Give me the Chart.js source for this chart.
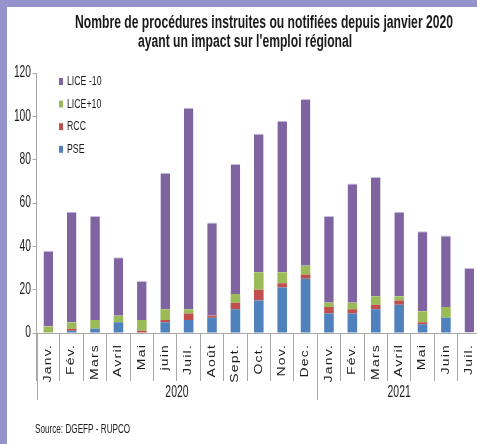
<!DOCTYPE html>
<html>
<head>
<meta charset="utf-8">
<script src="https://cdn.jsdelivr.net/npm/chart.js@4.4.1/dist/chart.umd.min.js"></script>
<style>
  html, body { margin: 0; padding: 0; background: #fff; overflow: hidden; }
  #wrap { width: 477px; height: 444px; overflow: hidden; }
</style>
</head>
<body>
<div id="wrap"><canvas id="chart" width="482" height="444"></canvas></div>
<script>
const months = ['Janv.', 'Fév.', 'Mars', 'Avril', 'Mai', 'juin', 'Juil.', 'Août', 'Sept.', 'Oct.', 'Nov.', 'Dec.',
                'Janv.', 'Fév.', 'Mars', 'Avril', 'Mai', 'Juin', 'Juil.'];
const years = ['2020', '2021'];
const monthsPerYear = [12, 7];

const pse     = [0, 1, 2, 5, 0, 5, 6, 7, 11, 15, 21, 25, 9, 9, 11, 13, 4, 7, 0];
const rcc     = [0, 1, 0, 0, 1, 1, 3, 1, 3, 5, 2, 2, 3, 2, 2, 2, 1, 0, 0];
const licePlus10  = [3, 3, 4, 3, 5, 5, 2, 0, 4, 8, 5, 4, 2, 3, 4, 2, 5, 5, 0];
const liceMinus10 = [35, 51, 48, 27, 18, 63, 93, 43, 60, 64, 70, 77, 40, 55, 55, 39, 37, 33, 30];

const yTicks = [0, 20, 40, 60, 80, 100, 120];

const titleLines = ['Nombre de procédures instruites ou notifiées depuis janvier 2020',
                    "ayant un impact sur l'emploi régional"];
const sourceText = 'Source: DGEFP - RUPCO';

const FONT = '"Liberation Sans", Arial, sans-serif';
const INK = '#1a1a1a';
const AXIS = '#a9a9a9';

// text squeezed horizontally, like the original picture
function text(ctx, s, x, y, size, sx, align, bold) {
  ctx.save();
  ctx.translate(x, y);
  ctx.scale(sx, 1);
  ctx.font = (bold ? 'bold ' : '') + size + 'px ' + FONT;
  ctx.fillStyle = INK;
  ctx.textAlign = align;
  ctx.textBaseline = 'middle';
  ctx.fillText(s, 0, 0);
  ctx.restore();
}

function vtext(ctx, s, x, y, size, sx) {
  ctx.save();
  ctx.translate(x, y);
  ctx.rotate(-Math.PI / 2);
  ctx.scale(1, sx);
  ctx.font = size + 'px ' + FONT;
  ctx.letterSpacing = '1.2px';
  ctx.fillStyle = INK;
  ctx.textAlign = 'right';
  ctx.textBaseline = 'middle';
  ctx.fillText(s, 0, 0);
  ctx.restore();
}

const decor = {
  id: 'decor',
  beforeDraw(chart) {
    const ctx = chart.ctx;
    ctx.save();
    ctx.fillStyle = '#fff';
    ctx.fillRect(0, 0, chart.width, chart.height);
    ctx.fillStyle = '#9494cb';
    ctx.fillRect(0, 0, chart.width, 7);
    ctx.fillRect(0, 0, 7, chart.height);
    ctx.restore();
  },
  afterDraw(chart) {
    const ctx = chart.ctx;
    const x = chart.scales.x, y = chart.scales.y;

    // title
    ctx.save();
    ctx.font = 'bold 18px ' + FONT;
    const tsx = 378 / ctx.measureText(titleLines[0]).width;
    ctx.restore();
    text(ctx, titleLines[0], 75, 23, 18, tsx, 'left', true);
    text(ctx, titleLines[1], 138, 42, 18, tsx, 'left', true);

    // y labels
    y.ticks.forEach(t => {
      text(ctx, String(t.value), 31, y.getPixelForValue(t.value), 16, 0.64, 'right');
    });

    // legend (top of the stack first)
    const ds = chart.data.datasets.slice().reverse();
    ds.forEach((d, i) => {
      const cy = 81.5 + i * 22.6;
      ctx.fillStyle = d.backgroundColor;
      ctx.fillRect(59, cy - 3.5, 4, 7);
      text(ctx, d.label, 67, cy, 12.5, 0.7, 'left');
    });

    // month labels
    months.forEach((m, i) => {
      vtext(ctx, m, x.getPixelForValue(i), 344, 14, 0.72);
    });

    // year separators and labels
    const half = (x.getPixelForValue(1) - x.getPixelForValue(0)) / 2;
    let start = 0;
    ctx.save();
    ctx.strokeStyle = AXIS;
    ctx.lineWidth = 1;
    years.forEach((yr, k) => {
      const end = start + monthsPerYear[k] - 1;
      const x0 = x.getPixelForValue(start) - half;
      const x1 = x.getPixelForValue(end) + half;
      [x0, x1].forEach(px => {
        ctx.beginPath();
        ctx.moveTo(Math.round(px) + 0.5, y.bottom);
        ctx.lineTo(Math.round(px) + 0.5, 400);
        ctx.stroke();
      });
      text(ctx, yr, (x0 + x1) / 2, 393, 16, 0.65, 'center');
      start = end + 1;
    });
    ctx.restore();

    // source
    text(ctx, sourceText, 35, 430, 12, 0.68, 'left');
  }
};

const ctx = document.getElementById('chart').getContext('2d');
new Chart(ctx, {
  type: 'bar',
  data: {
    labels: months,
    datasets: [
      { label: 'PSE', data: pse, backgroundColor: '#4f81bd' },
      { label: 'RCC', data: rcc, backgroundColor: '#c0504d' },
      { label: 'LICE+10', data: licePlus10, backgroundColor: '#9bbb59' },
      { label: 'LICE -10', data: liceMinus10, backgroundColor: '#8064a2',
        borderColor: '#c9bde0', borderWidth: { top: 1, left: 0, right: 0, bottom: 0 }, borderSkipped: 'bottom' }
    ]
  },
  options: {
    responsive: false,
    animation: false,
    barPercentage: 0.41,
    categoryPercentage: 1,
    layout: { autoPadding: false, padding: { top: 73, left: 0, right: 1, bottom: 111 } },
    plugins: { legend: { display: false }, tooltip: { enabled: false }, title: { display: false } },
    scales: {
      x: {
        stacked: true,
        ticks: { display: false },
        grid: { offset: true, drawOnChartArea: false, drawTicks: true, tickLength: 48, color: AXIS },
        border: { display: true, color: AXIS },
        afterFit(s) { s.height = 0; }
      },
      y: {
        stacked: true,
        min: 0,
        max: 120,
        afterBuildTicks(s) { s.ticks = yTicks.map(v => ({ value: v })); },
        ticks: { display: false },
        grid: { drawOnChartArea: false, drawTicks: true, tickLength: 4, color: AXIS },
        border: { display: true, color: AXIS },
        afterFit(s) { s.width = 36.6; }
      }
    }
  },
  plugins: [decor]
});
</script>
</body>
</html>
